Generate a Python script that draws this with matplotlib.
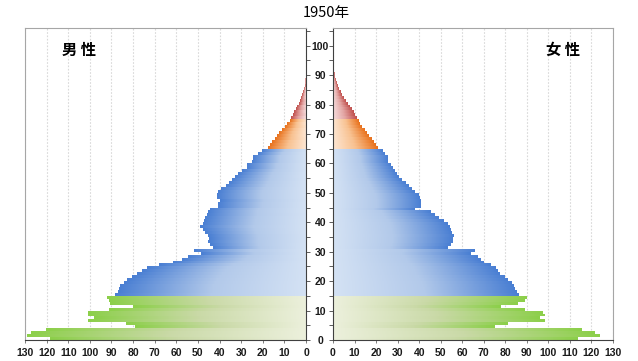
import numpy as np
import matplotlib
matplotlib.use('Agg')
import matplotlib.pyplot as plt
from matplotlib.colors import LinearSegmentedColormap

# ---------------- data (population, 10,000 persons) ----------------
ages = list(range(0, 96))

male = [118.4, 129.0, 127.0, 120.3, 79.0, 83.3, 101.0, 98.0, 100.7, 100.7, 91.0, 80.2, 90.7, 91.0, 92.2,
        88.5, 87.0, 86.5, 86.0, 84.0, 83.0, 80.6, 78.3, 76.0, 73.7, 67.8, 61.4, 57.5, 54.4, 48.5,
        51.7, 43.0, 44.4, 45.5, 45.0, 45.5, 46.7, 47.5, 49.0, 47.5, 47.0, 46.5, 45.9, 45.2, 44.4,
        40.6, 40.6, 39.8, 41.0, 41.0, 40.6, 39.3, 37.0, 35.5, 34.4, 32.8, 31.3, 29.7, 27.1, 27.1,
        25.1, 24.4, 24.4, 22.0, 20.5,
        17.4, 16.5, 15.5, 14.5, 13.3, 12.3, 11.0, 9.9, 8.7, 7.6,
        6.9, 6.2, 5.4, 4.8, 4.1, 3.4, 2.8, 2.2, 1.7, 1.3, 0.9, 0.65, 0.45, 0.3, 0.2, 0.12, 0.08,
        0.05, 0.03, 0.02, 0.01]

female = [113.7, 123.8, 121.5, 115.3, 75.0, 80.9, 98.3, 96.0, 98.0, 97.5, 88.7, 78.0, 85.5, 88.7, 90.0,
          86.0, 85.0, 84.5, 84.0, 83.0, 81.0, 79.5, 77.5, 76.5, 75.5, 73.0, 70.0, 68.5, 67.0, 64.0,
          65.5, 53.0, 54.5, 55.5, 55.5, 56.0, 55.0, 54.5, 54.0, 53.0, 51.5, 49.0, 47.0, 45.5, 38.0,
          40.5, 40.5, 40.5, 40.0, 39.5, 38.0, 36.5, 35.0, 33.5, 32.0, 30.5, 29.5, 28.5, 27.5, 26.5,
          25.5, 25.5, 25.5, 24.0, 23.0,
          20.6, 19.7, 18.6, 17.8, 16.6, 15.5, 14.4, 13.1, 12.4, 11.8,
          11.0, 10.2, 9.4, 8.5, 7.6, 6.7, 5.8, 4.9, 4.1, 3.4, 2.7, 2.1, 1.6, 1.2, 0.85, 0.6, 0.4,
          0.25, 0.15, 0.09, 0.05]

x_ticks = list(range(0, 131, 10))
y_ticks = list(range(0, 106, 5))
y_labels = [str(a) if a % 10 == 0 else '' for a in y_ticks]
title = '1950年'
label_m = '男 性'
label_f = '女 性'

# age-group gradients (light at centre -> saturated at outer end)
group_cmaps = {
    'young': LinearSegmentedColormap.from_list('g', ['#ecf0dc', '#c9d9a6', '#8ccf4a']),
    'work': LinearSegmentedColormap.from_list('b', ['#d4e2f4', '#b2c9ea', '#4a7fd3']),
    'old': LinearSegmentedColormap.from_list('o', ['#fde6d2', '#f8c190', '#e8711c']),
    'oldest': LinearSegmentedColormap.from_list('r', ['#f6dddd', '#e3a5a3', '#c0504d']),
}


def group_of(a):
    if a < 15:
        return 'young'
    if a < 65:
        return 'work'
    if a < 75:
        return 'old'
    return 'oldest'


fig = plt.figure(figsize=(6.38, 3.61), dpi=100)
W, H = 638, 361
axL = fig.add_axes([25 / W, 21 / H, 281 / W, 312 / H])
axR = fig.add_axes([333 / W, 21 / H, 280 / W, 312 / H])

grad = np.linspace(0, 1, 128)[None, :]
tick_font = dict(family=['Liberation Sans', 'DejaVu Sans'], fontsize=7.5, fontweight='bold')

for ax, vals in ((axL, male), (axR, female)):
    bars = ax.barh(ages, vals, height=1.0, left=0, align='edge', color='none', edgecolor='none')
    for a, v, b in zip(ages, vals, bars):
        im = ax.imshow(grad, cmap=group_cmaps[group_of(a)], extent=(0, v, a, a + 1),
                       aspect='auto', interpolation='bilinear', zorder=2)
        im.set_clip_path(b)
    ax.set_ylim(0, 106)
    ax.set_xticks(x_ticks)
    ax.set_xticklabels([str(t) for t in x_ticks], color='#1a1a1a', **tick_font)
    ax.tick_params(axis='x', direction='out', length=2, width=0.6, color='#666666', pad=3.5)
    ax.grid(axis='x', color='#d9d9d9', linestyle=(0, (1.5, 1.5)), linewidth=0.8, zorder=0)
    ax.set_axisbelow(True)
    ax.set_facecolor('white')
    ax.spines['top'].set_color('#a6a6a6')
    ax.spines['bottom'].set_color('#404040')

axL.set_xlim(130, 0)
axR.set_xlim(0, 130)

# centre axis: ticks on both inner spines, labels between them
axL.yaxis.tick_right()
axL.set_yticks(y_ticks)
axL.set_yticklabels(y_labels, ha='center', color='#1a1a1a', **tick_font)
axL.tick_params(axis='y', direction='out', length=3, width=0.6, color='#404040', pad=7.4)
axL.spines['left'].set_color('#a6a6a6')
axL.spines['right'].set_color('#404040')

axR.set_yticks(y_ticks)
axR.set_yticklabels([])
axR.tick_params(axis='y', direction='out', length=3, width=0.6, color='#404040')
axR.spines['right'].set_color('#a6a6a6')
axR.spines['left'].set_color('#404040')

for ax in (axL, axR):
    for s in ax.spines.values():
        s.set_linewidth(0.8)

jp = ['Noto Sans CJK JP', 'DejaVu Sans']
fig.text(326 / W, 1 - 13 / H, title, ha='center', va='center', fontsize=10.5, family=jp)
fig.text(78.5 / W, 1 - 50 / H, label_m, ha='center', va='center', fontsize=11, fontweight='bold', family=jp)
fig.text(563 / W, 1 - 50 / H, label_f, ha='center', va='center', fontsize=11, fontweight='bold', family=jp)

fig.savefig('out.png', dpi=100)
